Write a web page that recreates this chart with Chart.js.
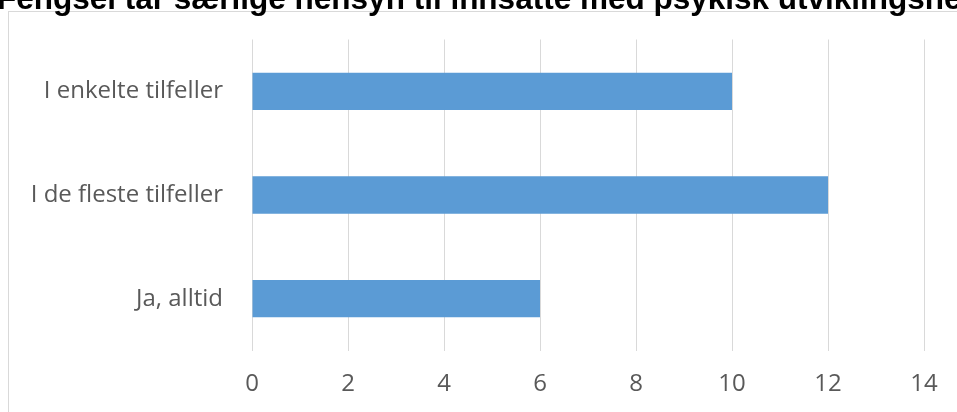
<!DOCTYPE html>
<html>
<head>
<meta charset="utf-8">
<script src="https://cdn.jsdelivr.net/npm/chart.js@4/dist/chart.umd.min.js"></script>
<style>
  html, body { margin: 0; padding: 0; background: #fff; }
  #wrap { width: 957px; height: 412px; position: relative; }
</style>
</head>
<body>
<div id="wrap"><canvas id="chart"></canvas></div>
<script>
const titleText = "Fengsel tar særlige hensyn til innsatte med psykisk utviklingshemming";
const categories = ["I enkelte tilfeller", "I de fleste tilfeller", "Ja, alltid"];
const counts = [10, 12, 6];
const xTicks = [0, 2, 4, 6, 8, 10, 12, 14];

// light frame round the chart + the title, which is cut off at the top
const framePlugin = {
  id: 'frame',
  beforeDraw(chart) {
    const ctx = chart.ctx;
    ctx.save();
    ctx.strokeStyle = '#d9d9d9';
    ctx.lineWidth = 1;
    ctx.strokeRect(8.5, 11.5, 1200, 1200);
    ctx.restore();
  },
  afterDraw(chart) {
    const ctx = chart.ctx;
    ctx.save();
    ctx.font = 'bold 31.5px "Liberation Sans", Arial, sans-serif';
    ctx.fillStyle = '#000';
    ctx.textBaseline = 'alphabetic';
    ctx.textAlign = 'left';
    ctx.fillText(titleText, -3, 9);
    ctx.restore();
  }
};

new Chart(document.getElementById('chart'), {
  type: 'bar',
  data: {
    labels: categories,
    datasets: [{
      data: counts,
      backgroundColor: '#5b9bd5',
      barPercentage: 0.36,
      categoryPercentage: 1
    }]
  },
  options: {
    indexAxis: 'y',
    responsive: true,
    maintainAspectRatio: false,
    animation: false,
    layout: { padding: { top: 39.5, right: 33, left: 0, bottom: 0 } },
    plugins: {
      legend: { display: false },
      tooltip: { enabled: false }
    },
    scales: {
      x: {
        min: 0,
        max: 14,
        afterBuildTicks(scale) { scale.ticks = xTicks.map(v => ({ value: v })); },
        afterFit(scale) { scale.height = 61.5; },
        grid: { color: '#d9d9d9', drawTicks: false },
        border: { display: false },
        ticks: {
          padding: 19,
          color: '#595959',
          font: { family: '"Open Sans", sans-serif', size: 24 }
        }
      },
      y: {
        afterFit(scale) {
          scale.width = 252;
          scale.paddingTop = 0;
          scale.paddingBottom = 0;
        },
        grid: { display: false, drawTicks: false },
        border: { display: false },
        ticks: {
          padding: 29,
          color: '#595959',
          font: { family: '"Open Sans", sans-serif', size: 24 }
        }
      }
    }
  },
  plugins: [framePlugin]
});
</script>
</body>
</html>
